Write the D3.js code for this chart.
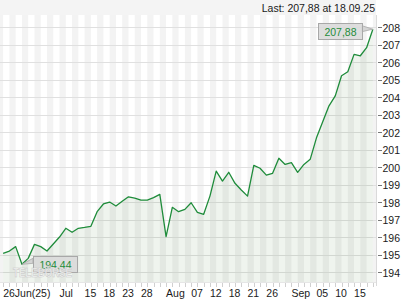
<!DOCTYPE html>
<html>
<head>
<meta charset="utf-8">
<script src="https://cdn.jsdelivr.net/npm/d3@7"></script>
<style>
  html, body { margin: 0; padding: 0; background: #fff; }
  svg { display: block; font-family: "Liberation Sans", Arial, sans-serif; }
</style>
</head>
<body>
<div id="chart"></div>
<script>
// trading days shown (Aug 15 has no quote)
const dates = [
  "26.06.25", "27.06.25", "30.06.25", "01.07.25", "02.07.25", "03.07.25", "04.07.25",
  "07.07.25", "08.07.25", "09.07.25", "10.07.25", "11.07.25",
  "14.07.25", "15.07.25", "16.07.25", "17.07.25", "18.07.25",
  "21.07.25", "22.07.25", "23.07.25", "24.07.25", "25.07.25",
  "28.07.25", "29.07.25", "30.07.25", "31.07.25", "01.08.25",
  "04.08.25", "05.08.25", "06.08.25", "07.08.25", "08.08.25",
  "11.08.25", "12.08.25", "13.08.25", "14.08.25",
  "18.08.25", "19.08.25", "20.08.25", "21.08.25", "22.08.25",
  "25.08.25", "26.08.25", "27.08.25", "28.08.25", "29.08.25",
  "01.09.25", "02.09.25", "03.09.25", "04.09.25", "05.09.25",
  "08.09.25", "09.09.25", "10.09.25", "11.09.25", "12.09.25",
  "15.09.25", "16.09.25", "17.09.25", "18.09.25"
];

const closes = [
  195.07, 195.20, 195.45, 194.44, 194.78, 195.58, 195.45,
  195.20, 195.60, 196.00, 196.50, 196.27,
  196.50, 196.55, 196.61, 197.45, 197.89,
  198.00, 197.77, 198.04, 198.30, 198.23,
  198.11, 198.11, 198.25, 198.44, 196.02,
  197.70, 197.45, 197.58, 197.96, 197.41,
  197.30, 198.34, 199.77, 199.20,
  199.70, 199.07, 198.69, 198.34, 200.10,
  199.93, 199.54, 199.64, 200.50, 200.15,
  200.25, 199.70, 200.15, 200.44, 201.67,
  202.59, 203.50, 204.07, 205.22, 205.45,
  206.44, 206.36, 206.82, 207.88
];

const tickDates = [
  "26.06.25", "01.07.25", "15.07.25", "18.07.25", "23.07.25", "28.07.25",
  "01.08.25", "07.08.25", "12.08.25", "18.08.25", "21.08.25", "26.08.25",
  "01.09.25", "05.09.25", "10.09.25", "15.09.25"
];
const tickLabels = [
  "26Jun(25)", "Jul", "15", "18", "23", "28",
  "Aug", "07", "12", "18", "21", "26",
  "Sep", "05", "10", "15"
];

const yTicks = [194, 195, 196, 197, 198, 199, 200, 201, 202, 203, 204, 205, 206, 207, 208];

const width = 420;
const height = 300;
const plot = { left: 0, right: 376, top: 15, bottom: 282 };

const lineColor = "#1f8c3b";
const textColor = "#1a1a1a";
const de = d3.formatLocale({ decimal: ",", thousands: ".", grouping: [3], currency: ["", "€"] });
const fmt = de.format(".2f");

const data = dates.map((d, i) => ({ date: d, v: closes[i] }));

const svg = d3.select("#chart")
  .append("svg")
  .attr("width", width)
  .attr("height", height);

const x = d3.scalePoint()
  .domain(dates)
  .range([plot.left, plot.right])
  .padding(0.5);

const y = d3.scaleLinear()
  .domain([193.43, 208.69])
  .range([plot.bottom, plot.top]);

// header strip
svg.append("rect")
  .attr("x", 0).attr("y", 0)
  .attr("width", plot.right).attr("height", plot.top)
  .attr("fill", "#f4f4f4");

// plot background, light stripes between every other pair of days
svg.append("rect")
  .attr("x", plot.left).attr("y", plot.top)
  .attr("width", plot.right - plot.left).attr("height", plot.bottom - plot.top)
  .attr("fill", "#f3f3f3");

const stripeIdx = d3.range(0, dates.length - 1, 2);
svg.append("g")
  .selectAll("rect")
  .data(stripeIdx)
  .enter()
  .append("rect")
  .attr("x", i => x(dates[i]))
  .attr("y", plot.top)
  .attr("width", i => x(dates[i + 1]) - x(dates[i]))
  .attr("height", plot.bottom - plot.top)
  .attr("fill", "#ffffff");

// horizontal grid
svg.append("g")
  .selectAll("line")
  .data(yTicks)
  .enter()
  .append("line")
  .attr("x1", plot.left).attr("x2", plot.right)
  .attr("y1", d => Math.round(y(d)) + 0.5)
  .attr("y2", d => Math.round(y(d)) + 0.5)
  .attr("stroke", "#e0e0e0");

// area + line
const area = d3.area()
  .x(d => x(d.date))
  .y0(plot.bottom)
  .y1(d => y(d.v));

svg.append("path")
  .datum(data)
  .attr("d", area)
  .attr("fill", "rgba(40,110,30,0.075)");

const line = d3.line()
  .x(d => x(d.date))
  .y(d => y(d.v));

svg.append("path")
  .datum(data)
  .attr("d", line)
  .attr("fill", "none")
  .attr("stroke", lineColor)
  .attr("stroke-width", 1.3)
  .attr("stroke-linejoin", "round");

// frame lines
svg.append("line")
  .attr("x1", plot.right + 0.5).attr("x2", plot.right + 0.5)
  .attr("y1", plot.top).attr("y2", plot.bottom + 4)
  .attr("stroke", "#dadada");
svg.append("line")
  .attr("x1", plot.left).attr("x2", plot.right)
  .attr("y1", plot.bottom + 0.5).attr("y2", plot.bottom + 0.5)
  .attr("stroke", "#e6e6e6");

// small day ticks along the bottom
svg.append("g")
  .selectAll("line")
  .data(dates)
  .enter()
  .append("line")
  .attr("x1", d => Math.round(x(d)) + 0.5)
  .attr("x2", d => Math.round(x(d)) + 0.5)
  .attr("y1", plot.bottom + 1).attr("y2", plot.bottom + 5)
  .attr("stroke", "#d0d0d0");

// y axis on the right
const yAxis = svg.append("g");
yAxis.selectAll("line")
  .data(yTicks)
  .enter()
  .append("line")
  .attr("x1", plot.right + 2).attr("x2", plot.right + 6)
  .attr("y1", d => Math.round(y(d)) + 0.5)
  .attr("y2", d => Math.round(y(d)) + 0.5)
  .attr("stroke", "#777");
yAxis.selectAll("text")
  .data(yTicks)
  .enter()
  .append("text")
  .attr("x", plot.right + 6.5)
  .attr("y", d => y(d) + 4.5)
  .attr("font-size", 10.5)
  .attr("fill", textColor)
  .text(d => d);

// x labels: left aligned at their day; a label that would collide
// moves on to the next day where it fits
const xLab = svg.append("g");
let prevEnd = -Infinity;
tickDates.forEach((d, i) => {
  const t = xLab.append("text")
    .attr("y", 297)
    .attr("font-size", 10.5)
    .attr("fill", textColor)
    .text(tickLabels[i]);
  const w = t.node().getComputedTextLength();
  let k = dates.indexOf(d);
  while (k < dates.length - 1 && x(dates[k]) < prevEnd + 5) k++;
  const left = x(dates[k]);
  t.attr("x", left);
  prevEnd = left + w;
});

// header
const last = data[data.length - 1];
svg.append("text")
  .attr("x", plot.right - 1)
  .attr("y", 12)
  .attr("text-anchor", "end")
  .attr("font-size", 10.5)
  .attr("fill", textColor)
  .text(`Last: ${fmt(last.v)} at ${last.date}`);

// callouts for low and last value
function callout(d, side) {
  const px = x(d.date), py = y(d.v);
  const bw = 44, bh = 16;
  const g = svg.append("g");
  let bx, by, wedge;
  if (side === "right") {
    bx = px + 11; by = py - 8;
    wedge = [[px, py], [bx, by + 2], [bx, by + 7]];
  } else {
    bx = px - 11 - bw; by = py - 6.5;
    wedge = [[px, py], [bx + bw, by + 3], [bx + bw, by + 9]];
  }
  g.append("polygon")
    .attr("points", wedge.map(p => p.join(",")).join(" "))
    .attr("fill", "#d4d4d4")
    .attr("stroke", "#a8a8a8")
    .attr("stroke-width", 0.8);
  g.append("rect")
    .attr("x", Math.round(bx) + 0.5).attr("y", Math.round(by) + 0.5)
    .attr("width", bw).attr("height", bh)
    .attr("fill", "#d9d9d9")
    .attr("fill-opacity", 0.88)
    .attr("stroke", "#a8a8a8");
  g.append("text")
    .attr("x", Math.round(bx) + bw / 2 + 0.5)
    .attr("y", Math.round(by) + 12.5)
    .attr("text-anchor", "middle")
    .attr("font-size", 10.5)
    .attr("fill", lineColor)
    .text(fmt(d.v));
}

const low = data.reduce((a, b) => (b.v < a.v ? b : a));
callout(low, "right");
callout(last, "left");

// watermark, drawn over the low callout as in the original
svg.append("text")
  .attr("x", 13)
  .attr("y", 277)
  .attr("font-size", 12.5)
  .attr("font-weight", "bold")
  .attr("textLength", 59)
  .attr("lengthAdjust", "spacingAndGlyphs")
  .attr("fill", "#ffffff")
  .attr("fill-opacity", 0.75)
  .attr("stroke", "#c4c4c4")
  .attr("stroke-width", 0.6)
  .text("TELEBÖRSE");
</script>
</body>
</html>
